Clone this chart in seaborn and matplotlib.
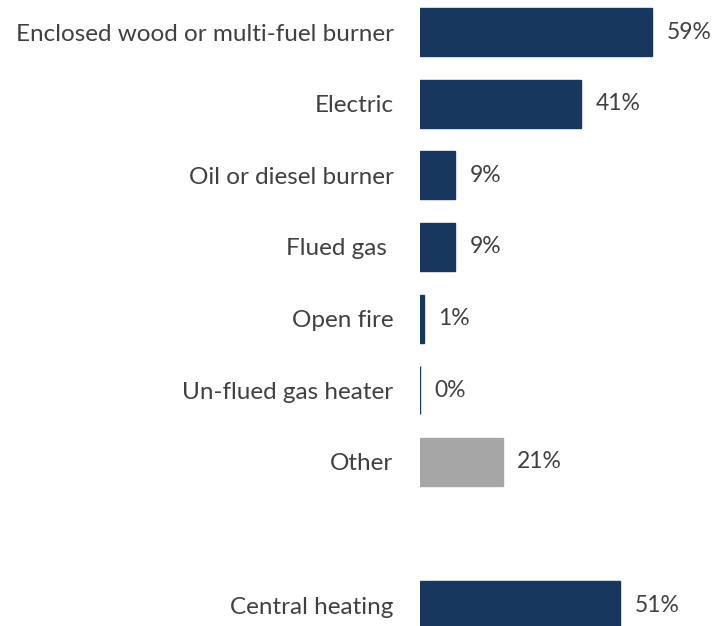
import seaborn as sns
import matplotlib.pyplot as plt
import pandas as pd

# dados
categorias = ["Enclosed wood or multi-fuel burner", "Electric", "Oil or diesel burner",
              "Flued gas ", "Open fire", "Un-flued gas heater", "Other", "Central heating"]
valores = [59, 41, 9, 9, 1, 0, 21, 51]
grupos = ["fuel", "fuel", "fuel", "fuel", "fuel", "fuel", "other", "fuel"]
ordem = categorias[:7] + [" "] + categorias[7:]  # espaco vazio antes de central heating

azul = "#17375E"
cinza = "#A6A6A6"
texto = "#404040"

sns.set_style("white")
plt.rcParams['font.family'] = ['Lato', 'DejaVu Sans']

df = pd.DataFrame({"cat": categorias, "valor": valores, "grupo": grupos})

fig = plt.figure(figsize=(7.12, 6.26), dpi=100)
ax = fig.add_axes([420 / 712, 0, 292 / 712, 1])

sns.barplot(data=df, x="valor", y="cat", hue="grupo", order=ordem, orient="h",
            palette={"fuel": azul, "other": cinza}, width=0.67, dodge=False,
            legend=False, ax=ax, linewidth=1, saturation=1)
for cont in ax.containers:
    for p in cont:
        p.set_edgecolor(p.get_facecolor())
    ax.bar_label(cont, labels=[f"{v:.0f}%" for v in cont.datavalues],
                 padding=10.5, fontsize=16.5, color=texto)

ax.set_xlim(0, 74.3)
ax.set_ylim(8.293, -0.447)
ax.set_xlabel("")
ax.set_ylabel("")
ax.set_xticks([])
ax.tick_params(axis="y", length=0, pad=19, labelsize=17.5, labelcolor=texto)
sns.despine(ax=ax, left=True, bottom=True)

fig.savefig("out.png", dpi=100)
